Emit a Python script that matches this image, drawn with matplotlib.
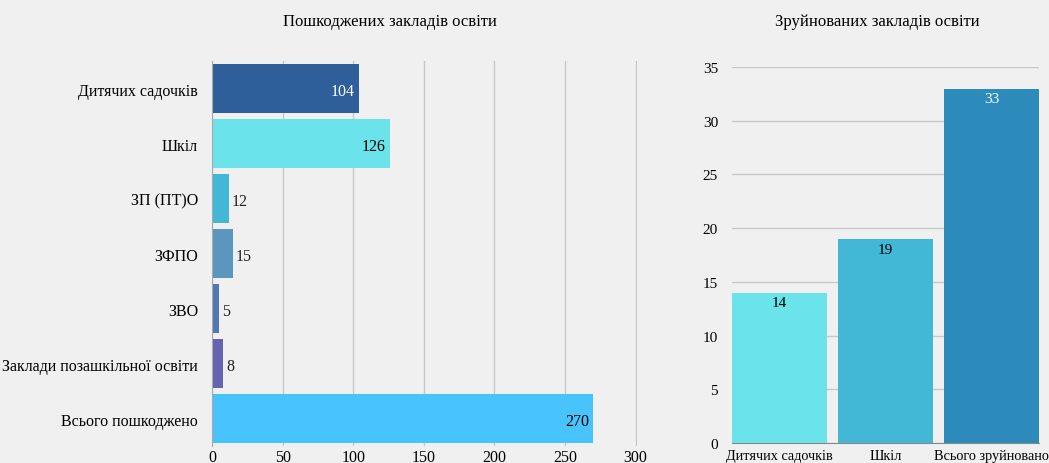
import matplotlib
matplotlib.use("Agg")
import matplotlib.pyplot as plt

# дані
damaged_labels = ["Дитячих садочків", "Шкіл", "ЗП (ПТ)О", "ЗФПО", "ЗВО",
                  "Заклади позашкільної освіти", "Всього пошкоджено"]
damaged_values = [104, 126, 12, 15, 5, 8, 270]
damaged_colors = ["#2e5f9a", "#6ae4ea", "#42b8d6", "#5a96bd", "#5277b5", "#6464b0", "#48c3fc"]

destroyed_labels = ["Дитячих садочків", "Шкіл", "Всього зруйновано"]
destroyed_values = [14, 19, 33]
destroyed_colors = ["#6ae4ea", "#42b8d6", "#2c8bba"]

plt.rcParams["font.family"] = ["Liberation Serif", "DejaVu Serif"]
BG = "#f0f0f0"
GRID = "#c8c8c8"

fig = plt.figure(figsize=(10.49, 4.64), dpi=100, facecolor=BG)

# ---- ліворуч: пошкоджені ----
ax1 = fig.add_axes([0.2021, 0.0366, 0.4051, 0.8297], facecolor=BG)
ypos = range(len(damaged_values))
ax1.barh(ypos, damaged_values, height=0.9, color=damaged_colors, zorder=2)
ax1.set_xlim(0, 301)
ax1.set_ylim(len(damaged_values) - 0.5, -0.5)
ax1.set_yticks(list(ypos))
ax1.set_yticklabels(damaged_labels, fontsize=11.5)
ax1.set_xticks(range(0, 301, 50))
ax1.tick_params(axis="x", labelsize=11.5, length=0, pad=2)
ax1.tick_params(axis="y", length=0, pad=10)
ax1.grid(axis="x", color=GRID, linewidth=1, zorder=0)
for s in ["top", "right", "bottom"]:
    ax1.spines[s].set_visible(False)
ax1.spines["left"].set_color("#aaaaaa")

inside = {0: "white", 1: "black", 6: "black"}
for i, v in enumerate(damaged_values):
    if i in inside:
        ax1.text(v - 3, i + 0.05, str(v), ha="right", va="center",
                 fontsize=11.5, color=inside[i], zorder=3)
    else:
        ax1.text(v + 2, i + 0.05, str(v), ha="left", va="center",
                 fontsize=11.5, color="#222222", zorder=3)

fig.text(0.372, 0.952, "Пошкоджених закладів освіти", ha="center", va="center", fontsize=12)

# ---- праворуч: зруйновані ----
ax2 = fig.add_axes([0.6978, 0.0431, 0.2927, 0.8103], facecolor=BG)
xpos = range(len(destroyed_values))
ax2.bar(xpos, destroyed_values, width=0.9, color=destroyed_colors, zorder=2)
ax2.set_xlim(-0.45, len(destroyed_values) - 0.55)
ax2.set_ylim(0, 35)
ax2.set_yticks(range(0, 36, 5))
ax2.set_xticks(list(xpos))
ax2.set_xticklabels(destroyed_labels, fontsize=10.3)
ax2.tick_params(axis="y", labelsize=11, length=0, pad=10)
ax2.tick_params(axis="x", length=0, pad=4)
ax2.grid(axis="y", color=GRID, linewidth=1, zorder=0)
for s in ["top", "right", "left"]:
    ax2.spines[s].set_visible(False)
ax2.spines["bottom"].set_color("#888888")

label_cols = ["black", "black", "white"]
for i, v in enumerate(destroyed_values):
    ax2.text(i, v - 0.35, str(v), ha="center", va="top",
             fontsize=11, color=label_cols[i], zorder=3)

fig.text(0.836, 0.952, "Зруйнованих закладів освіти", ha="center", va="center", fontsize=12)

fig.savefig("out.png", dpi=100, facecolor=BG)
